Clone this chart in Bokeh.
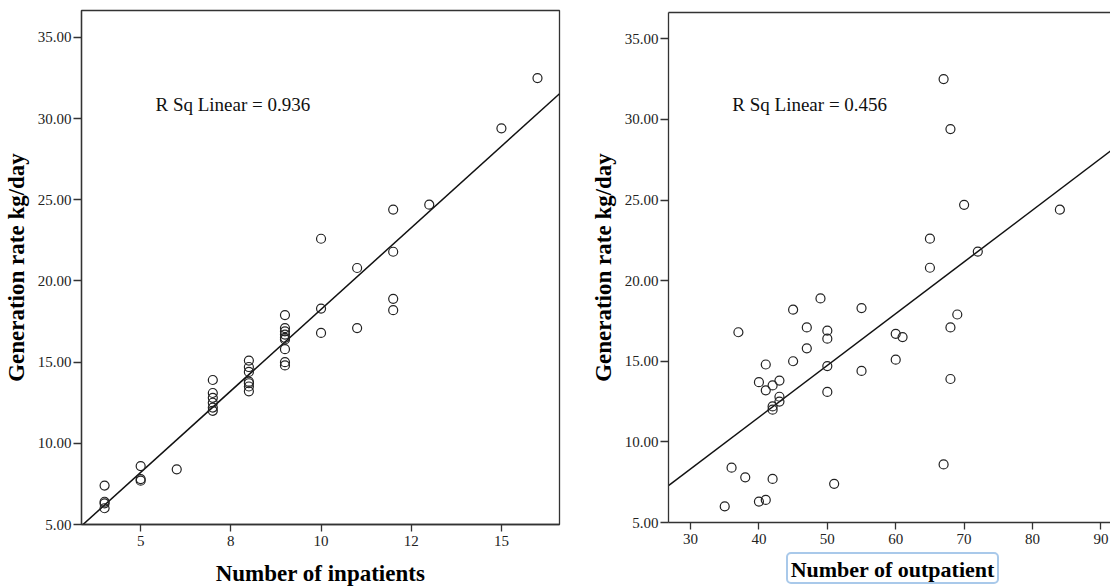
import numpy as np
from bokeh.plotting import figure
from bokeh.layouts import row, column
from bokeh.models import FixedTicker, Label, LinearAxis, Range1d, Div
from bokeh.embed import file_html
from bokeh.resources import INLINE

# Waste generation rate (kg/day) per facility with its patient counts
rate = [32.5, 29.4, 24.7, 24.4, 22.6, 21.8, 20.8, 18.9, 18.3, 18.2,
        17.9, 17.1, 17.1, 16.9, 16.8, 16.7, 16.5, 16.4, 15.8, 15.1,
        15.0, 14.8, 14.7, 14.4, 13.9, 13.8, 13.7, 13.5, 13.2, 13.1,
        12.8, 12.5, 12.2, 12.0, 8.6, 8.4, 7.8, 7.7, 7.4, 6.4, 6.3, 6.0]
inpatients = [16, 15, 13, 12, 10, 12, 11, 12, 10, 12,
              9, 11, 9, 9, 10, 9, 9, 9, 9, 8,
              9, 9, 8, 8, 7, 8, 8, 8, 8, 7,
              7, 7, 7, 7, 5, 6, 5, 5, 4, 4, 4, 4]
outpatients = [67, 68, 70, 84, 65, 72, 65, 49, 55, 45,
               69, 68, 47, 50, 37, 60, 61, 50, 47, 60,
               45, 41, 50, 55, 68, 43, 40, 42, 41, 50,
               43, 43, 42, 42, 67, 36, 38, 42, 51, 41, 40, 35]

in_ticks = [5, 7.5, 10, 12.5, 15]
in_tick_labels = ["5", "8", "10", "12", "15"]
out_ticks = [30, 40, 50, 60, 70, 80, 90]
out_tick_labels = ["30", "40", "50", "60", "70", "80", "90"]
rate_ticks = [5, 10, 15, 20, 25, 30, 35]
rate_tick_labels = ["5.00", "10.00", "15.00", "20.00", "25.00", "30.00", "35.00"]

r2_in_text = "R Sq Linear = 0.936"
r2_out_text = "R Sq Linear = 0.456"
y_title = "Generation rate kg/day"
x_title_in = "Number of inpatients"
x_title_out = "Number of outpatient"

AXIS_COLOR = "#333333"
TICK_FONT = "Liberation Sans Narrow"
TITLE_FONT = "Liberation Serif"


def style_axes(p, xticks, xlabels, yticks, ylabels):
    p.grid.visible = False
    p.xaxis.ticker = FixedTicker(ticks=xticks)
    p.xaxis.major_label_overrides = dict(zip(xticks, xlabels))
    p.yaxis.ticker = FixedTicker(ticks=yticks)
    p.yaxis.major_label_overrides = dict(zip(yticks, ylabels))
    for ax in (p.xaxis, p.yaxis):
        ax.axis_line_color = AXIS_COLOR
        ax.axis_line_width = 1.3
        ax.major_tick_line_color = AXIS_COLOR
        ax.major_tick_line_width = 1.3
        ax.major_tick_in = 0
        ax.minor_tick_line_color = None
        ax.major_label_text_font = TICK_FONT
        ax.major_label_text_font_size = "15px"
        ax.major_label_text_color = "#222222"
        ax.axis_label_text_font = TITLE_FONT
        ax.axis_label_text_font_style = "bold"
        ax.axis_label_text_font_size = "23px"
        ax.axis_label_text_color = "#000000"
    p.yaxis.major_tick_out = 8
    p.yaxis.major_label_standoff = 2
    p.xaxis.major_tick_out = 7
    p.xaxis.major_label_standoff = 4
    p.yaxis.axis_label = y_title
    p.yaxis.axis_label_standoff = 6
    p.xaxis.axis_label_standoff = 12


def add_fit(p, xs, ys, x0, x1):
    slope, intercept = np.polyfit(xs, ys, 1)
    lx = np.array([x0, x1])
    p.line(lx, slope * lx + intercept, line_color="#111111", line_width=1.5)
    p.scatter(xs, ys, marker="circle", size=9, fill_color=None,
              line_color="#222222", line_width=1.2)


# Left panel: inpatients
x1r = (3.36, 16.61)
p1 = figure(width=570, height=588, x_range=Range1d(*x1r),
            y_range=Range1d(5, 36.66), output_backend="svg",
            toolbar_location=None, min_border_left=80, min_border_right=11,
            min_border_top=10, min_border_bottom=64)
p1.outline_line_color = AXIS_COLOR
p1.outline_line_width = 1.3
style_axes(p1, in_ticks, in_tick_labels, rate_ticks, rate_tick_labels)
p1.xaxis.axis_label = x_title_in
add_fit(p1, inpatients, rate, *x1r)
p1.add_layout(Label(x=5.41, y=30.9, text=r2_in_text, text_font=TITLE_FONT,
                    text_font_size="19px", text_color="#111111",
                    text_baseline="alphabetic"))

# Right panel: outpatients (frame runs off the right edge, so no outline)
x2r = (26.78, 91.4)
p2 = figure(width=540, height=552, x_range=Range1d(*x2r),
            y_range=Range1d(5, 36.63), output_backend="svg",
            toolbar_location=None, min_border_left=98, min_border_right=0,
            min_border_top=12, min_border_bottom=30)
p2.outline_line_color = None
style_axes(p2, out_ticks, out_tick_labels, rate_ticks, rate_tick_labels)
p2.xaxis.axis_label = None
top_axis = LinearAxis(ticker=FixedTicker(ticks=[]), major_label_text_font_size="0px",
                      major_tick_line_color=None, minor_tick_line_color=None,
                      axis_line_color=AXIS_COLOR, axis_line_width=1.3)
p2.add_layout(top_axis, "above")
add_fit(p2, outpatients, rate, *x2r)
p2.add_layout(Label(x=36.11, y=30.9, text=r2_out_text, text_font=TITLE_FONT,
                    text_font_size="19px", text_color="#111111",
                    text_baseline="alphabetic"))

# Boxed x-axis title under the right panel
title_box = Div(
    text=(
        '<div style="position:relative;width:540px;height:36px;">'
        '<div style="position:absolute;left:216px;top:0px;width:213px;height:32px;'
        'border:2px solid #a9c9ea;border-radius:5px;background:#ffffff;'
        "font-family:'Liberation Serif';font-weight:bold;font-size:22px;"
        'line-height:32px;text-align:center;color:#000000;white-space:nowrap;">'
        + x_title_out +
        '</div></div>'
    ),
    width=540, height=36, margin=0,
)

layout = row(p1, column(p2, title_box))
open("out.html", "w").write(file_html(layout, INLINE))
